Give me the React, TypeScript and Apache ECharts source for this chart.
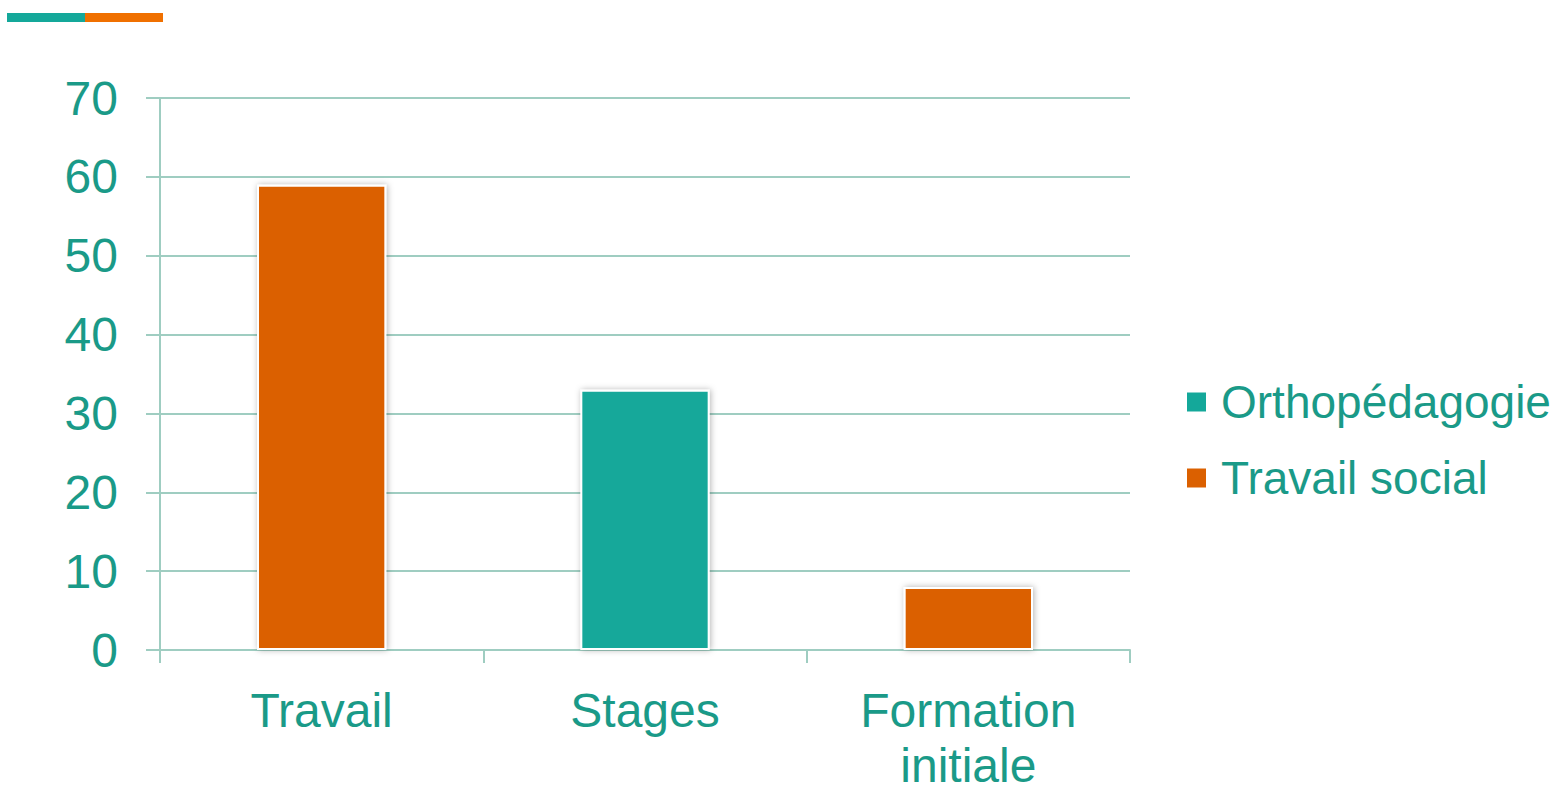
import React, { useEffect, useRef } from "react";
import * as echarts from "echarts";

const categories = ["Travail", "Stages", "Formation\ninitiale"];
const seriesNames = ["Orthopédagogie", "Travail social"];
const orthoValues: (number | string)[] = ["-", 33, "-"];
const travailSocialValues: (number | string)[] = [59, "-", 8];
const yMin = 0;
const yMax = 70;
const yInterval = 10;

const TEXT = "#1a9a88";
const GRID = "#9fcdc1";
const TEAL = "#14a89a";
const ORANGE = "#db6000";
const FONT = "Liberation Sans, Arial, sans-serif";

export default function App() {
  const ref = useRef<HTMLDivElement>(null);
  useEffect(() => {
    if (!ref.current) return;
    const chart = echarts.init(ref.current, undefined, { renderer: "svg" });
    const barStyle = (color: string) => ({
      color,
      borderColor: "#ffffff",
      borderWidth: 2,
      shadowBlur: 6,
      shadowColor: "rgba(0,0,0,0.3)",
      shadowOffsetX: 1,
      shadowOffsetY: 0,
    });
    chart.setOption({
      animation: false,
      textStyle: { fontFamily: FONT },
      graphic: [
        { type: "rect", shape: { x: 7, y: 13, width: 78, height: 9 }, style: { fill: "#14a89a" } },
        { type: "rect", shape: { x: 85, y: 13, width: 78, height: 9 }, style: { fill: "#f07000" } },
      ],
      grid: { left: 160, right: 434, top: 98, bottom: 139 },
      legend: {
        orient: "vertical",
        left: 1185,
        top: 377,
        padding: 0,
        icon: "rect",
        itemWidth: 21,
        itemHeight: 21,
        itemGap: 26,
        data: seriesNames,
        textStyle: {
          color: TEXT,
          fontSize: 46,
          lineHeight: 50,
          padding: [0, 0, 0, 9],
          fontFamily: FONT,
        },
      },
      xAxis: {
        type: "category",
        data: categories,
        axisLine: { show: true, lineStyle: { color: GRID, width: 2 } },
        axisTick: { show: true, length: 13, lineStyle: { color: GRID, width: 2 } },
        axisLabel: {
          color: TEXT,
          fontSize: 48,
          lineHeight: 55,
          margin: 33,
          fontFamily: FONT,
        },
        splitLine: { show: false },
      },
      yAxis: {
        type: "value",
        min: yMin,
        max: yMax,
        interval: yInterval,
        axisLine: { show: true, lineStyle: { color: GRID, width: 2 } },
        axisTick: { show: true, length: 14, lineStyle: { color: GRID, width: 2 } },
        axisLabel: {
          color: TEXT,
          fontSize: 48,
          margin: 42,
          fontFamily: FONT,
        },
        splitLine: { show: true, lineStyle: { color: GRID, width: 2 } },
      },
      series: [
        {
          name: seriesNames[0],
          type: "bar",
          stack: "total",
          data: orthoValues,
          barWidth: "40%",
          itemStyle: barStyle(TEAL),
        },
        {
          name: seriesNames[1],
          type: "bar",
          stack: "total",
          data: travailSocialValues,
          barWidth: "40%",
          itemStyle: barStyle(ORANGE),
        },
      ],
    });
    return () => chart.dispose();
  }, []);
  return (
    <div
      ref={ref}
      style={{ position: "fixed", left: 0, top: 0, width: 1564, height: 793, background: "#ffffff" }}
    />
  );
}
